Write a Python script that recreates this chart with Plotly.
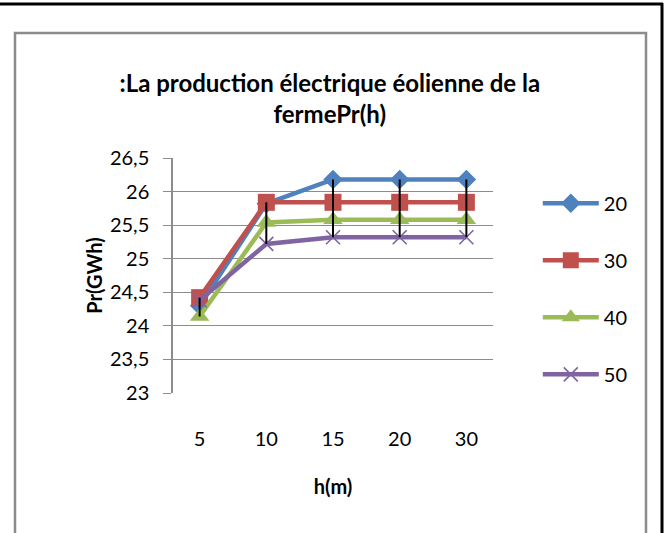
import plotly.graph_objects as go

categories = ["5", "10", "15", "20", "30"]
series_names = ["20", "30", "40", "50"]
s20 = [24.30, 25.82, 26.18, 26.18, 26.18]
s30 = [24.42, 25.84, 25.84, 25.84, 25.84]
s40 = [24.14, 25.54, 25.58, 25.58, 25.58]
s50 = [24.38, 25.22, 25.32, 25.32, 25.32]
y_ticks = [23, 23.5, 24, 24.5, 25, 25.5, 26, 26.5]
y_tick_labels = ["23", "23,5", "24", "24,5", "25", "25,5", "26", "26,5"]

series = [s20, s30, s40, s50]
colors = ["#4F81BD", "#C0504D", "#9BBB59", "#8064A2"]
symbols = ["diamond", "square", "triangle-up", "x-thin"]
msizes = [15, 17, 17, 14]

FONT = "Lato, Carlito, Calibri, sans-serif"

fig = go.Figure()

for name, vals, col, sym, ms in zip(series_names, series, colors, symbols, msizes):
    marker = dict(symbol=sym, size=ms, color=col)
    if sym == "x-thin":
        marker["line"] = dict(color=col, width=1.6)
    fig.add_trace(go.Scatter(x=categories, y=vals, name=name, mode="lines+markers",
                             line=dict(color=col, width=4.5), marker=marker,
                             legendgroup=name))

# high-low lines (Excel style) computed from the series
hl_x, hl_y = [], []
for i, c in enumerate(categories):
    vals = [s[i] for s in series]
    hl_x += [c, c, None]
    hl_y += [max(vals), min(vals), None]
fig.add_trace(go.Scatter(x=hl_x, y=hl_y, mode="lines",
                         line=dict(color="black", width=2),
                         showlegend=False, hoverinfo="skip"))

shapes = [
    # gray chart-area border (pixel offsets from plot-area corners)
    dict(type="rect", xref="paper", yref="paper", xsizemode="pixel", ysizemode="pixel",
         xanchor=0, yanchor=1, x0=-158, x1=473, y0=125, y1=-390,
         line=dict(color="#8C8C8C", width=2.5), fillcolor="rgba(0,0,0,0)", layer="below"),
    # black outer border: top and right
    dict(type="line", xref="paper", yref="paper", xsizemode="pixel", ysizemode="pixel",
         xanchor=0, yanchor=1, x0=-175, x1=490, y0=154, y1=154,
         line=dict(color="black", width=3)),
    dict(type="line", xref="paper", yref="paper", xsizemode="pixel", ysizemode="pixel",
         xanchor=0, yanchor=1, x0=489, x1=489, y0=155, y1=-400,
         line=dict(color="black", width=3)),
]

fig.update_layout(
    width=670, height=533,
    margin=dict(l=173, r=177, t=158, b=140),
    paper_bgcolor="white", plot_bgcolor="white",
    font=dict(family=FONT, size=20, color="black"),
    title=dict(text=":La production électrique éolienne de la<br>fermePr(h)",
               font=dict(family=FONT, size=24, color="black", weight="bold"),
               x=0.49, xref="paper", xanchor="center",
               y=1 - 92 / 533, yref="container", yanchor="middle"),
    xaxis=dict(type="category", showgrid=False, showline=False, ticks="",
               ticklabelstandoff=32, tickfont=dict(size=20),
               title=dict(text="h(m)", font=dict(size=20, weight="bold"), standoff=30)),
    yaxis=dict(range=[23, 26.5], tickvals=y_ticks, ticktext=y_tick_labels,
               showgrid=True, gridcolor="#8C8C8C", gridwidth=1,
               showline=True, linecolor="#8C8C8C", linewidth=1.5,
               ticks="outside", ticklen=8, tickcolor="#8C8C8C",
               ticklabelstandoff=10, tickfont=dict(size=20), zeroline=False,
               title=dict(text="Pr(GWh)", font=dict(size=20, weight="bold"), standoff=2)),
    legend=dict(x=1.14, xanchor="left", y=0.89, yanchor="top",
                font=dict(size=20), tracegroupgap=28, itemwidth=56,
                bgcolor="rgba(0,0,0,0)"),
    shapes=shapes,
    showlegend=True,
)

fig.write_html("out.html")
